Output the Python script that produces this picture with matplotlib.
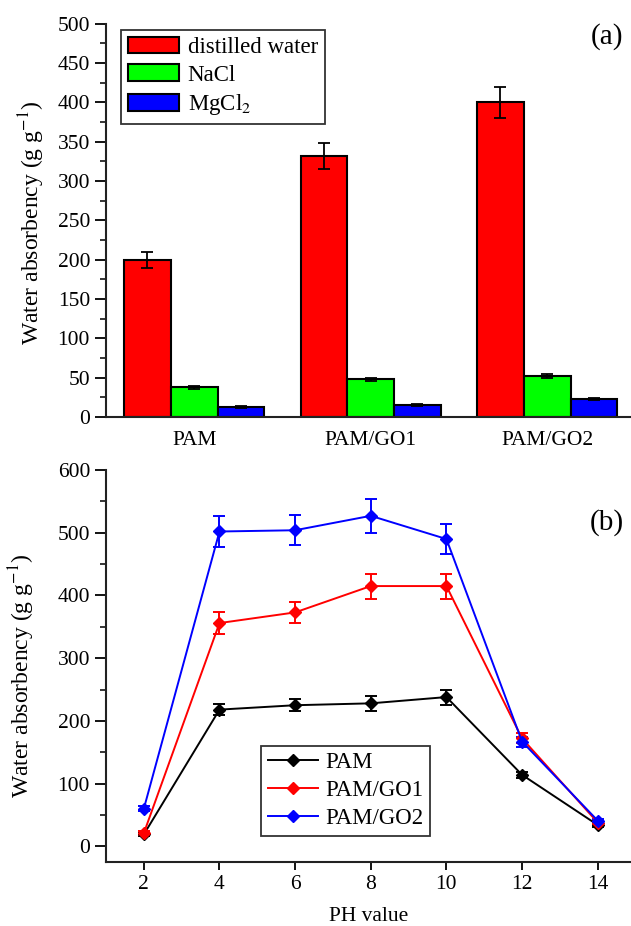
import matplotlib
matplotlib.use("Agg")
import matplotlib.pyplot as plt
import numpy as np
from matplotlib.ticker import MultipleLocator
from matplotlib.lines import Line2D

# Panel (a) data
samples = ["PAM", "PAM/GO1", "PAM/GO2"]
media = ["distilled water", "NaCl", "MgCl$_2$"]
water_vals = [200, 332, 400]
water_err = [10, 17, 20]
nacl_vals = [38, 48, 52]
nacl_err = [2, 2, 3]
mgcl_vals = [13, 15, 23]
mgcl_err = [1, 1, 1.5]

# Panel (b) data
ph = [2, 4, 6, 8, 10, 12, 14]
pam = [19, 218, 225, 228, 238, 114, 34]
pam_err = [3, 9, 10, 12, 12, 5, 3]
pam_go1 = [21, 356, 373, 415, 415, 172, 38]
pam_go1_err = [3, 17, 17, 20, 20, 8, 3]
pam_go2 = [60, 502, 504, 527, 490, 167, 41]
pam_go2_err = [4, 25, 24, 27, 24, 8, 3]

plt.rcParams["font.family"] = ["Liberation Serif", "DejaVu Serif"]
plt.rcParams["mathtext.fontset"] = "stix"

fig = plt.figure(figsize=(6.31, 9.26), dpi=100)
ax1 = fig.add_axes([0.168, 0.5497, 0.832, 0.4246])
ax2 = fig.add_axes([0.168, 0.0691, 0.832, 0.4233])


def style_axes(ax):
    for side in ["top", "right"]:
        ax.spines[side].set_visible(False)
    for side in ["left", "bottom"]:
        ax.spines[side].set_linewidth(1.5)
        ax.spines[side].set_color("#222222")


# ---- (a) bars ----
x = np.arange(len(samples))
w = 0.265
ekw = dict(ecolor="black", elinewidth=1.3, capsize=4, capthick=1.3)
ax1.bar(x - w, water_vals, w, yerr=water_err, color="#ff0000", edgecolor="black",
        linewidth=1.5, label=media[0], error_kw=ekw, zorder=2)
ax1.bar(x, nacl_vals, w, yerr=nacl_err, color="#00ff00", edgecolor="black",
        linewidth=1.5, label=media[1], error_kw=ekw, zorder=2)
ax1.bar(x + w, mgcl_vals, w, yerr=mgcl_err, color="#0000ff", edgecolor="black",
        linewidth=1.5, label=media[2], error_kw=ekw, zorder=2)

style_axes(ax1)
ax1.set_xlim(-0.5, 2.475)
ax1.set_ylim(0, 500)
ax1.set_xticks(x)
ax1.set_xticklabels(samples)
ax1.yaxis.set_major_locator(MultipleLocator(50))
ax1.yaxis.set_minor_locator(MultipleLocator(25))
ax1.tick_params(axis="y", which="major", direction="out", length=8, width=1.3, labelsize=15.5)
ax1.tick_params(axis="y", which="minor", direction="out", length=4, width=1.1)
ax1.tick_params(axis="x", which="major", direction="in", length=6, width=1.3, labelsize=15.5, pad=10)
ax1.set_ylabel("Water absorbency (g g$^{-1}$)", fontsize=17)
ax1.yaxis.set_label_coords(-0.113, 0.494)
ax1.text(0.954, 0.967, "(a)", transform=ax1.transAxes, fontsize=21, ha="center", va="center")

leg1 = ax1.legend(loc="upper left", bbox_to_anchor=(0.029, 0.985), fontsize=16.5,
                  frameon=True, fancybox=False, edgecolor="black", handlelength=2.2,
                  handleheight=0.75, labelspacing=0.28, borderpad=0.3, handletextpad=0.4,
                  borderaxespad=0)
leg1.get_frame().set_linewidth(1.3)

# ---- (b) lines ----
series = [(pam, pam_err, "black", "PAM"),
          (pam_go1, pam_go1_err, "#ff0000", "PAM/GO1"),
          (pam_go2, pam_go2_err, "#0000ff", "PAM/GO2")]
handles = []
for vals, errs, col, lab in series:
    ax2.errorbar(ph, vals, yerr=errs, color=col, marker="D", markersize=6, linewidth=1.4,
                 elinewidth=1.4, capsize=4, capthick=1.4)
    handles.append(Line2D([], [], color=col, marker="D", markersize=6, linewidth=1.4, label=lab))

style_axes(ax2)
ax2.set_xlim(1, 14.88)
ax2.set_ylim(-25, 600)
ax2.set_xticks(ph)
ax2.yaxis.set_major_locator(MultipleLocator(100))
ax2.yaxis.set_minor_locator(MultipleLocator(50))
ax2.tick_params(axis="y", which="major", direction="out", length=8, width=1.3, labelsize=15.5)
ax2.tick_params(axis="y", which="minor", direction="out", length=4, width=1.1)
ax2.tick_params(axis="x", which="major", direction="out", length=6, width=1.3, labelsize=15.5)
ax2.set_ylabel("Water absorbency (g g$^{-1}$)", fontsize=17)
ax2.yaxis.set_label_coords(-0.132, 0.474)
ax2.set_xlabel("PH value", fontsize=15.5, labelpad=9)
ax2.text(0.954, 0.865, "(b)", transform=ax2.transAxes, fontsize=21, ha="center", va="center")

leg2 = ax2.legend(handles=handles, loc="lower left", bbox_to_anchor=(0.295, 0.066), fontsize=16.5,
                  frameon=True, fancybox=False, edgecolor="black", handlelength=2.2,
                  labelspacing=0.3, borderpad=0.3, handletextpad=0.3, borderaxespad=0)
leg2.get_frame().set_linewidth(1.3)

fig.savefig("out.png", dpi=100)
